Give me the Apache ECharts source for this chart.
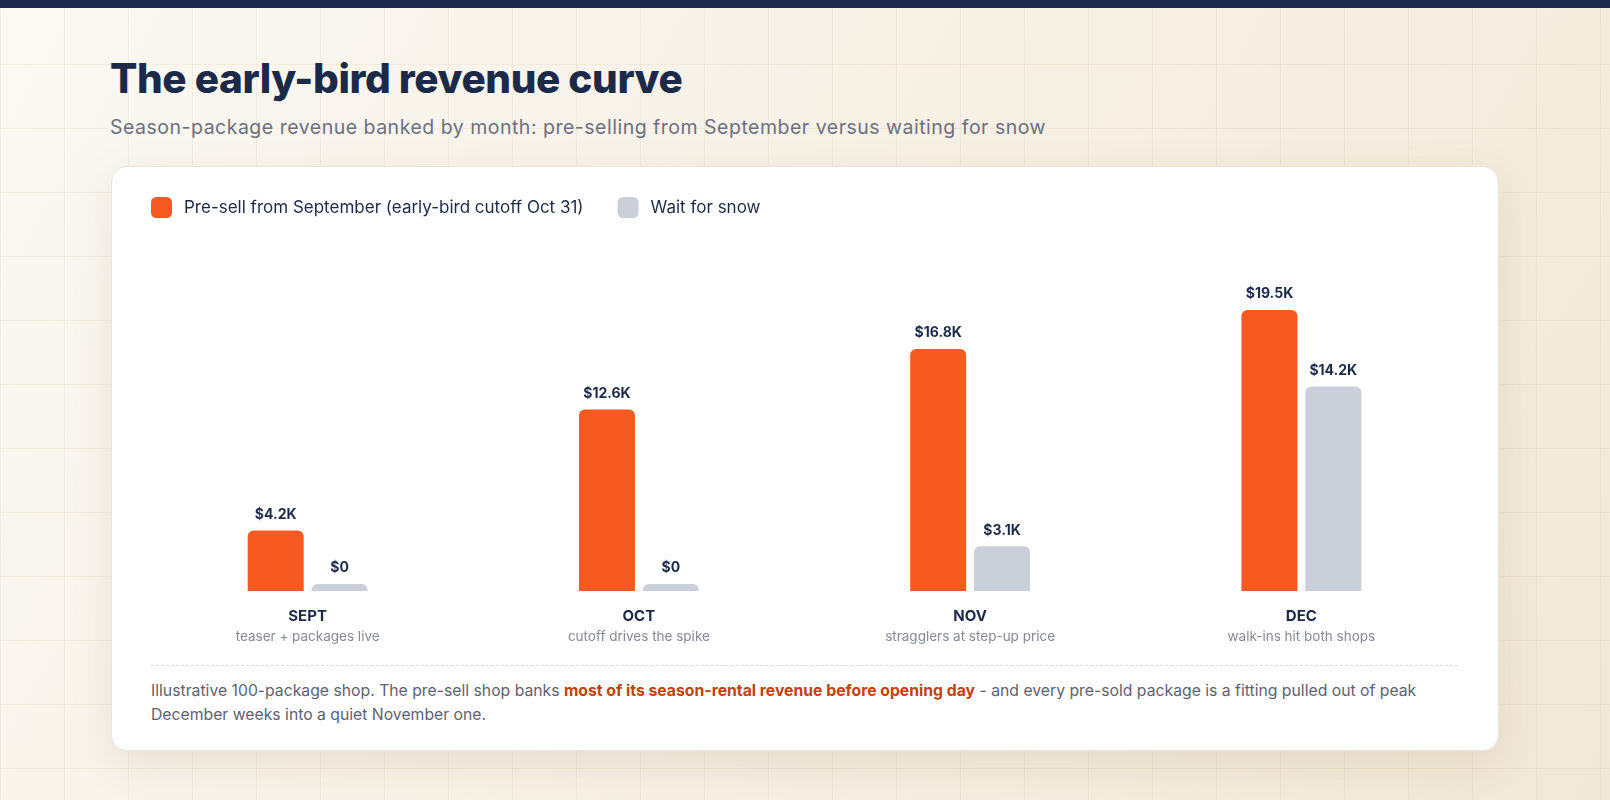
<!DOCTYPE html>
<html>
<head>
<meta charset="utf-8">
<script src="https://cdn.jsdelivr.net/npm/echarts@6/dist/echarts.min.js"></script>
<style>
  html, body { margin:0; padding:0; }
  body {
    width:1610px; height:800px; overflow:hidden; position:relative;
    font-family: Inter, "Noto Sans", sans-serif;
    background-color:#f6efe3;
    background-image:
      linear-gradient(rgba(190,165,125,0.13) 1px, transparent 1px),
      linear-gradient(90deg, rgba(190,165,125,0.13) 1px, transparent 1px),
      linear-gradient(120deg, #fbf9f4 0%, #f7f1e6 45%, #f2e8d7 100%);
    background-size: 64px 64px, 64px 64px, 100% 100%;
  }
  #topbar { position:absolute; left:0; top:0; width:1610px; height:8px; background:#1d2a4b; }
  #title { position:absolute; left:110px; top:55px; margin:0; font-size:40.5px; line-height:48px; font-weight:800; color:#1c2a4a; letter-spacing:-0.4px; white-space:nowrap; }
  #subtitle { position:absolute; left:110px; top:115px; margin:0; font-size:19.5px; line-height:24px; letter-spacing:0.5px; color:#6b7080; white-space:nowrap; }
  #card { position:absolute; left:111px; top:166px; width:1386px; height:583px; background:#fff; border:1px solid #ebe6dd; border-radius:16px; box-shadow:0 12px 40px rgba(120,95,55,0.13); }
  #divider { position:absolute; left:151px; top:665px; width:1307px; height:0; border-top:1px dashed #d9dbe1; }
  #footer { position:absolute; left:151px; top:679px; margin:0; font-size:15.75px; line-height:24px; color:#5d6272; white-space:nowrap; }
  #footer b { color:#c2410c; font-weight:700; }
  #chart { position:absolute; left:0; top:0; width:1610px; height:800px; }
</style>
</head>
<body>
<div id="topbar"></div>
<h1 id="title">The early-bird revenue curve</h1>
<p id="subtitle">Season-package revenue banked by month: pre-selling from September versus waiting for snow</p>
<div id="card"></div>
<div id="divider"></div>
<p id="footer">Illustrative 100-package shop. The pre-sell shop banks <b>most of its season-rental revenue before opening day</b> - and every pre-sold package is a fitting pulled out of peak<br>December weeks into a quiet November one.</p>
<div id="chart"></div>
<script>
const months = ['SEPT', 'OCT', 'NOV', 'DEC'];
const monthNotes = ['teaser + packages live', 'cutoff drives the spike', 'stragglers at step-up price', 'walk-ins hit both shops'];
const seriesNames = ['Pre-sell from September (early-bird cutoff Oct 31)', 'Wait for snow'];
const preSell = [4.2, 12.6, 16.8, 19.5];
const waitForSnow = [0, 0, 3.1, 14.2];

const chart = echarts.init(document.getElementById('chart'), null, { renderer: 'canvas' });
const fmt = v => v === 0 ? '$0' : '$' + v.toFixed(1) + 'K';
const labelCfg = {
  show: true, position: 'top', distance: 9,
  formatter: p => fmt(p.value),
  fontFamily: 'Inter', fontWeight: 700, fontSize: 14, color: '#1c2a4a'
};
chart.setOption({
  animation: false,
  legend: {
    left: 151, top: 197, padding: 0,
    itemWidth: 21, itemHeight: 21, itemGap: 34,
    icon: 'roundRect',
    textStyle: { fontFamily: 'Inter', fontSize: 17, color: '#1c2a4a', padding: [0, 0, 0, 7] },
    data: seriesNames
  },
  grid: { left: 142, right: 143, top: 274, height: 317 },
  xAxis: {
    type: 'category', data: months,
    axisLine: { show: false }, axisTick: { show: false },
    axisLabel: {
      margin: 15,
      formatter: (v, i) => '{m|' + v + '}\n{s|' + monthNotes[i] + '}',
      rich: {
        m: { fontFamily: 'Inter', fontWeight: 700, fontSize: 15, color: '#1c2a4a', lineHeight: 20 },
        s: { fontFamily: 'Inter', fontSize: 13.5, color: '#868a98', lineHeight: 22 }
      }
    }
  },
  yAxis: { type: 'value', min: 0, max: 22, show: false, splitLine: { show: false } },
  series: [
    {
      name: seriesNames[0], type: 'bar', data: preSell,
      barWidth: 56, barGap: '14%', barMinHeight: 7,
      itemStyle: { color: '#f75a20', borderRadius: [6, 6, 0, 0] },
      label: labelCfg
    },
    {
      name: seriesNames[1], type: 'bar', data: waitForSnow,
      barWidth: 56, barMinHeight: 7,
      itemStyle: { color: '#cbcfda', borderRadius: [6, 6, 0, 0] },
      label: labelCfg
    }
  ]
});
</script>
</body>
</html>
